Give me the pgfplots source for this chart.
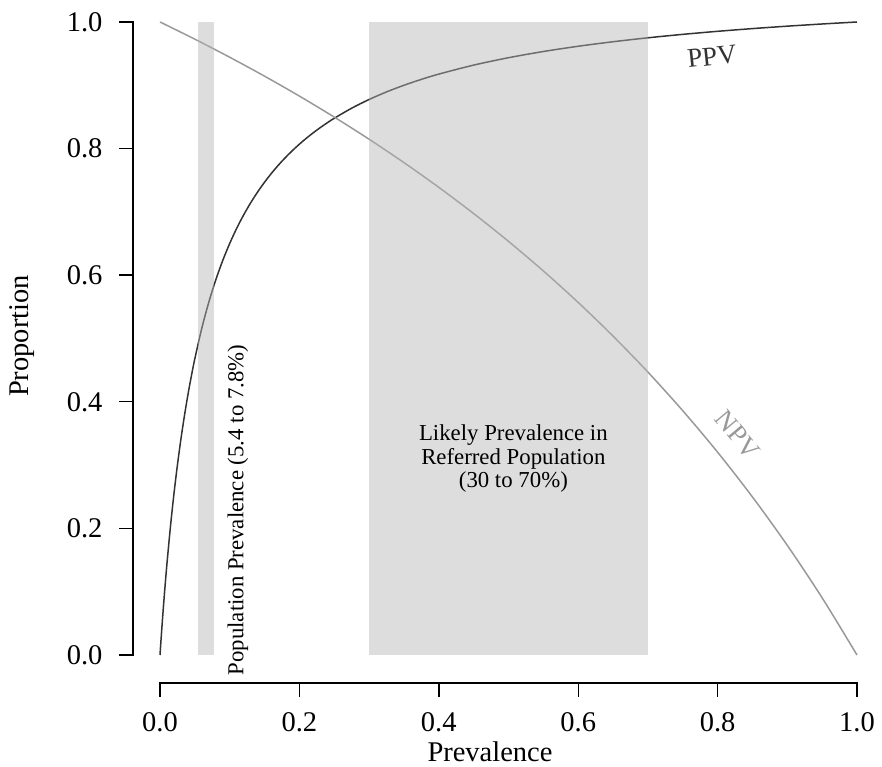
\documentclass[border=0pt]{standalone}
\usepackage{pgfplots}
\pgfplotsset{compat=1.18}
\usepackage{fontspec}
\setmainfont{Liberation Serif}

\definecolor{ppvcol}{HTML}{333333}
\definecolor{npvcol}{HTML}{999999}
\definecolor{bandcol}{HTML}{B4B4B4}

% Predictive values across prevalence (sensitivity 0.485, specificity 0.971)
\pgfplotstableread{
p      ppv
0.000  0.00000
0.001  0.01647
0.0025 0.04023
0.005  0.07753
0.0075 0.11220
0.010  0.14452
0.015  0.20298
0.020  0.25446
0.025  0.30012
0.030  0.34091
0.035  0.37756
0.040  0.41067
0.045  0.44073
0.050  0.46815
0.060  0.51632
0.070  0.55729
0.080  0.59255
0.090  0.62321
0.100  0.65013
0.110  0.67395
0.120  0.69517
0.130  0.71420
0.140  0.73136
0.150  0.74692
0.160  0.76108
0.170  0.77403
0.180  0.78592
0.190  0.79687
0.200  0.80699
0.210  0.81637
0.220  0.82508
0.230  0.83321
0.240  0.84080
0.250  0.84790
0.275  0.86383
0.300  0.87756
0.325  0.88953
0.350  0.90005
0.375  0.90937
0.400  0.91769
0.450  0.93189
0.500  0.94358
0.550  0.95336
0.600  0.96167
0.650  0.96881
0.700  0.97501
0.750  0.98046
0.800  0.98527
0.850  0.98956
0.900  0.99340
0.950  0.99686
1.000  1.00000
}\ppvtable

\pgfplotstableread{
p      npv
0.000  1.00000
0.050  0.97284
0.100  0.94433
0.150  0.91441
0.200  0.88293
0.250  0.84977
0.300  0.81480
0.350  0.77785
0.400  0.73877
0.450  0.69737
0.500  0.65343
0.550  0.60671
0.600  0.55692
0.650  0.50378
0.700  0.44692
0.750  0.38593
0.800  0.32036
0.850  0.24966
0.900  0.17321
0.950  0.09028
1.000  0.00000
}\npvtable

\begin{document}
\begin{tikzpicture}
\useasboundingbox (-133pt,-84pt) rectangle (749pt,683pt);
\begin{axis}[
  at={(0pt,0pt)}, anchor=south west,
  scale only axis, width=724pt, height=661pt,
  xmin=-0.03874, xmax=1, ymin=-0.04423, ymax=1,
  axis line style={draw=none},
  clip=false,
  tick pos=left, tick align=outside,
  major tick length=14pt,
  every tick/.style={black, line width=1.4pt},
  xtick={0,0.2,0.4,0.6,0.8,1},
  ytick={0,0.2,0.4,0.6,0.8,1},
  xticklabels={0.0,0.2,0.4,0.6,0.8,1.0},
  yticklabels={0.0,0.2,0.4,0.6,0.8,1.0},
  ticklabel style={font=\fontsize{28.5}{30}\selectfont},
  xticklabel style={yshift=-12pt},
  yticklabel style={xshift=-13pt},
  label style={font=\fontsize{28.5}{30}\selectfont},
  xlabel={Prevalence},
  ylabel={Proportion},
  xlabel style={at={(axis description cs:0.4931,-0.1195)}, anchor=base},
  ylabel style={at={(axis description cs:-0.1533,0.525)}, anchor=center},
]
  % detached axis lines
  \draw[line width=1.4pt, line cap=rect] (axis cs:0,-0.04423) -- (axis cs:1,-0.04423);
  \draw[line width=1.4pt, line cap=rect] (axis cs:-0.03874,0) -- (axis cs:-0.03874,1);

  % curves
  \addplot[ppvcol, line width=1.5pt, smooth] table[x=p, y=ppv] {\ppvtable};
  \addplot[npvcol, line width=1.5pt, smooth] table[x=p, y=npv] {\npvtable};

  % shaded prevalence bands
  \addplot[draw=none, fill=bandcol, fill opacity=0.456] coordinates {(0.054,0) (0.078,0) (0.078,1) (0.054,1)} -- cycle;
  \addplot[draw=none, fill=bandcol, fill opacity=0.456] coordinates {(0.30,0) (0.70,0) (0.70,1) (0.30,1)} -- cycle;

  % annotations
  \node[rotate=90, anchor=center, font=\fontsize{22.8}{24}\selectfont]
    at (axis cs:0.1119,0.229) {Population Prevalence (5.4 to 7.8\%)};
  \node[align=center, anchor=center, font=\fontsize{22.8}{23.5}\selectfont]
    at (axis cs:0.507,0.31) {Likely Prevalence in\\Referred Population\\(30 to 70\%)};
  \node[rotate=6, anchor=center, text=ppvcol, font=\fontsize{27}{28}\selectfont]
    at (axis cs:0.792,0.945) {PPV};
  \node[rotate=-50, anchor=center, text=npvcol, font=\fontsize{27}{28}\selectfont]
    at (axis cs:0.8286,0.3476) {NPV};
\end{axis}
\end{tikzpicture}
\end{document}
